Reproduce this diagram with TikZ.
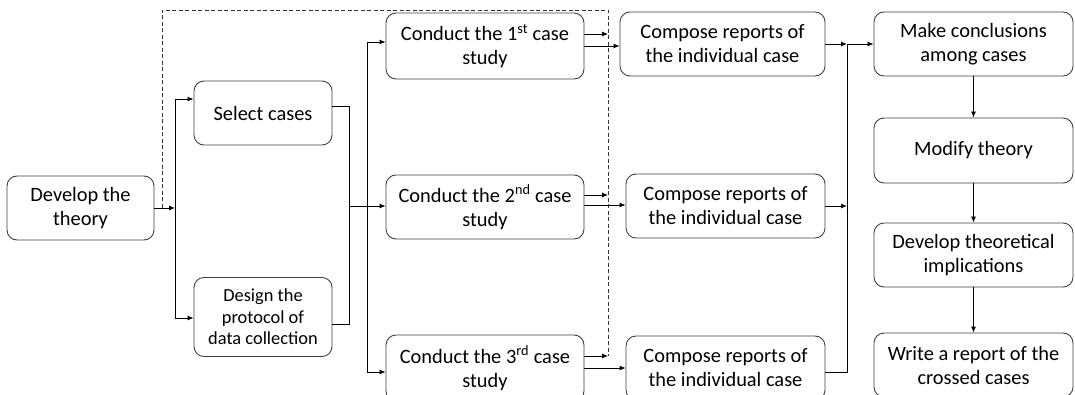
\documentclass[tikz,border=0pt]{standalone}
\usepackage{fontspec}
\setmainfont{Carlito}
\usetikzlibrary{arrows.meta}
\begin{document}
\begin{tikzpicture}[x=1pt,y=-1pt,
  box/.style={draw=black!75,line width=0.9pt,rounded corners=10pt,align=center,inner sep=2pt,
    font=\fontsize{20.4}{24}\selectfont},
  line/.style={draw=black,line width=0.9pt},
  arr/.style={line,-{Latex[length=6pt,width=5pt]}},
  dsh/.style={draw=black!80,line width=0.8pt,dash pattern=on 4pt off 2.5pt}]
\useasboundingbox (0,0) rectangle (1075,395);
\clip (0,0) rectangle (1075,395);
% nodes
\node[box,minimum width=147pt,minimum height=64pt] (theory) at (80.5,208) {Develop the\\theory};
\node[box,minimum width=138pt,minimum height=64pt] (select) at (263,113) {Select cases};
\node[box,minimum width=138pt,minimum height=79pt,font=\fontsize{18.4}{21.5}\selectfont] (design) at (263,317) {Design the\\protocol of\\data collection};
\node[box,minimum width=198pt,minimum height=66pt] (c1) at (485,46) {Conduct the 1\textsuperscript{st} case\\study};
\node[box,minimum width=198pt,minimum height=64pt] (c2) at (485,207) {Conduct the 2\textsuperscript{nd} case\\study};
\node[box,minimum width=198pt,minimum height=66pt] (c3) at (485,368) {Conduct the 3\textsuperscript{rd} case\\study};
\node[box,minimum width=205pt,minimum height=64pt] (r1) at (722.5,44) {Compose reports of\\the individual case};
\node[box,minimum width=199pt,minimum height=64pt] (r2) at (725.5,206) {Compose reports of\\the individual case};
\node[box,minimum width=199pt,minimum height=64pt] (r3) at (725.5,368) {Compose reports of\\the individual case};
\node[box,minimum width=199pt,minimum height=64pt] (mk) at (973.5,44) {Make conclusions\\among cases};
\node[box,minimum width=199pt,minimum height=65pt] (mod) at (973.5,150.5) {Modify theory};
\node[box,minimum width=199pt,minimum height=64pt] (dev) at (973.5,255) {Develop theoretical\\implications};
\node[box,minimum width=199pt,minimum height=64pt] (wr) at (973.5,365) {Write a report of the\\crossed cases};
% junctions
\coordinate (j1) at (175,208);
\coordinate (j2) at (349,206);
\coordinate (j3) at (367,206);
\coordinate (j4) at (847,44);
\coordinate (d0) at (162,208);
\coordinate (d1) at (162,10);
\coordinate (d2) at (608,10);
\coordinate (d3) at (608,356);
% left part
\draw[arr] (theory.east) -- (j1);
\draw[arr] (j1) |- (select.west |- 0,99);
\draw[arr] (j1) |- (design.west |- 0,318);
\draw[line] (select.east |- 0,106) -| (j2);
\draw[line] (design.east |- 0,324) -| (j2);
\draw[arr] (j2) -- (c2.west |- j2);
\draw[arr] (j3) |- (c1.west |- 0,42);
\draw[arr] (j3) |- (c3.west |- 0,372);
% dashed feedback
\draw[dsh] (d0) -- (d1) -- (d2) -- (d3);
\draw[arr] (c1.east |- 0,34) -- (d2 |- 0,34);
\draw[arr] (c2.east |- 0,195) -- (d2 |- 0,195);
\draw[arr] (c3.east |- 0,356) -- (d3);
% to reports
\draw[arr] (c1.east |- 0,46) -- (r1.west |- 0,46);
\draw[arr] (c2.east |- 0,205) -- (r2.west |- 0,205);
\draw[arr] (c3.east |- 0,368) -- (r3.west |- 0,368);
% collect
\draw[arr] (r1.east |- j4) -- (j4);
\draw[arr] (j4) -- (mk.west |- j4);
\draw[arr] (r2.east |- 0,206) -- (j4 |- 0,206);
\draw[line] (r3.east |- 0,372) -| (j4);
% right column
\draw[arr] (mk) -- (mod);
\draw[arr] (mod) -- (dev);
\draw[arr] (dev) -- (wr);
\end{tikzpicture}
\end{document}
